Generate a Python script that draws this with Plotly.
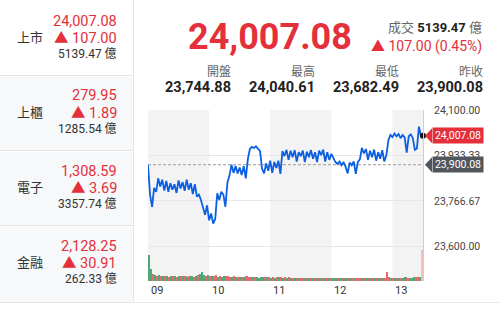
import plotly.graph_objects as go

# ---------------- data ----------------
times = [f"{(540 + 2 * i) // 60:02d}:{(540 + 2 * i) % 60:02d}" for i in range(136)]

prices = [
    23900, 23790, 23744.88, 23815, 23800, 23850,
    23820, 23845, 23805, 23840, 23800, 23832, 23808, 23828, 23796, 23842, 23812, 23836, 23804, 23845, 23808,
    23832, 23792, 23828, 23782,
    23790, 23770, 23740, 23715, 23750, 23695, 23720, 23682.49, 23700,
    23795, 23770, 23800, 23790, 23745, 23835, 23860, 23900, 23870, 23895, 23868,
    23890, 23862, 23895, 23850, 23920, 23958, 23966, 23962, 23968, 23960, 23950, 23885, 23868, 23905, 23878,
    23915, 23870, 23910, 23888, 23915, 23866, 23950, 23932, 23955, 23918, 23952, 23928, 23954, 23912, 23946,
    23932, 23952, 23910, 23948, 23928, 23954, 23922, 23946, 23910, 23952, 23935, 23956, 23912, 23946, 23918, 23940,
    23925, 23910, 23903, 23912, 23898, 23910, 23893, 23868, 23908, 23898, 23912, 23866, 23910, 23920, 23962,
    23942, 23958, 23918, 23952, 23928, 23956, 23915, 23946, 23922, 23954, 23912, 23935,
    23990, 24010, 24002, 24015, 24005, 24013, 23998, 24010, 24001, 23945, 24005, 24012, 23998, 23955, 23960,
    24040.61, 24005, 24007.08,
]

volumes = [
    260, 125, 70, 60, 55, 58, 50, 52, 48, 55,
    45, 50, 47, 52, 44, 48, 50, 46, 55, 45,
    50, 48, 44, 52, 60, 70, 90, 65, 55, 60,
    50, 55, 48, 62, 45, 50, 42, 48, 55, 50,
    45, 40, 46, 42, 40, 44, 38, 42, 50, 45,
    40, 38, 36, 40, 35, 45, 38, 40, 36, 38,
    35, 40, 34, 38, 36, 42, 35, 37, 33, 36,
    34, 32, 35, 30, 33, 31, 34, 30, 32, 30,
    33, 29, 31, 30, 32, 28, 30, 29, 31, 28,
    30, 27, 29, 28, 30, 27, 29, 32, 28, 27,
    29, 31, 28, 30, 35, 30, 28, 30, 27, 29,
    28, 30, 27, 29, 28, 30, 32, 90, 45, 35,
    33, 30, 32, 30, 34, 31, 36, 33, 35, 32,
    38, 40, 45, 42, 310,
]

hour_labels = ["09", "10", "11", "12", "13"]
y_tick_values = [24100.00, 23933.33, 23766.67, 23600.00]
y_tick_labels = ["24,100.00", "23,933.33", "23,766.67", "23,600.00"]

last_price = 24007.08
change = 107.00
change_pct = 0.45
turnover = 5139.47
open_price = 23744.88
high_price = 24040.61
low_price = 23682.49
prev_close = 23900.08

stat_labels = ["開盤", "最高", "最低", "昨收"]
stat_values = [open_price, high_price, low_price, prev_close]

card_names = ["上市", "上櫃", "電子", "金融"]
card_prices = [24007.08, 279.95, 1308.59, 2128.25]
card_changes = [107.00, 1.89, 3.69, 30.91]
card_vols = [5139.47, 1285.54, 3357.74, 262.33]

# ---------------- layout helpers ----------------
L, R, T, B = 148, 77, 110, 30
W, H = 500, 311
PW, PH = W - L - R, H - T - B
Y0, Y1 = 23471, 24102


def PX(x):
    return (x - L) / PW


def PY(y):
    return (H - B - y) / PH


def price_pix(p):
    return T + (Y1 - p) * PH / (Y1 - Y0)


FONT = "Roboto, 'Noto Sans CJK TC', sans-serif"
RED = "#e3303b"

minutes = [int(t[:2]) * 60 + int(t[3:]) - 540 for t in times]
end_min = minutes[-1]

vol_x = [m - 1 for m in minutes[1:]]
vol_colors = []
for i in range(1, len(prices)):
    vol_colors.append("#e35d5d" if prices[i] >= prices[i - 1] else "#3f9f6b")
vol_colors[-1] = "#f2b8b8"

fig = go.Figure()
fig.add_trace(go.Bar(x=vol_x, y=volumes, yaxis="y2", width=1.6,
                     marker=dict(color=vol_colors, line=dict(width=0)), opacity=0.9,
                     hoverinfo="skip"))
fig.add_trace(go.Scatter(x=minutes, y=prices, mode="lines",
                         line=dict(color="#0b5fe0", width=1.8), hoverinfo="skip"))
fig.add_trace(go.Scatter(x=[minutes[-1]], y=[prices[-1]], mode="markers",
                         marker=dict(color="#111", size=6), cliponaxis=False, hoverinfo="skip"))

shapes = []
# alternating hour bands
for k, lab in enumerate(hour_labels):
    if k % 2 == 0:
        x0 = int(lab) * 60 - 540
        shapes.append(dict(type="rect", xref="x", yref="paper", x0=x0, x1=min(x0 + 60, end_min),
                           y0=0, y1=1, fillcolor="#f3f3f3", line=dict(width=0), layer="below"))
# previous close dashed line
shapes.append(dict(type="line", xref="x", yref="y", x0=0, x1=end_min, y0=prev_close, y1=prev_close,
                   line=dict(color="#9a9a9a", width=1, dash="3px,2px"), layer="between"))
# left panel cards
for k in range(4):
    top = 0 if k == 0 else 75 * k + 2
    bot = 75 * (k + 1) if k < 3 else 302
    shapes.append(dict(type="rect", xref="paper", yref="paper", x0=PX(0), x1=PX(133),
                       y0=PY(bot), y1=PY(top), fillcolor="#ffffff" if k == 0 else "#f7f8fa",
                       line=dict(width=0), layer="below"))
    shapes.append(dict(type="line", xref="paper", yref="paper", x0=PX(0), x1=PX(133),
                       y0=PY(bot + 0.5), y1=PY(bot + 0.5), line=dict(color="#e4e4e4", width=1)))
shapes.append(dict(type="line", xref="paper", yref="paper", x0=PX(133.5), x1=PX(133.5),
                   y0=PY(302), y1=PY(0), line=dict(color="#e4e4e4", width=1)))
shapes.append(dict(type="line", xref="paper", yref="paper", x0=PX(134), x1=PX(500),
                   y0=PY(302.5), y1=PY(302.5), line=dict(color="#e8e8e8", width=1)))
# badge arrows
for p, col in [(last_price, RED), (prev_close, "#50565c")]:
    yc = price_pix(p)
    shapes.append(dict(type="path", xref="paper", yref="paper",
                       path=f"M {PX(425)},{PY(yc)} L {PX(432)},{PY(yc - 7.5)} L {PX(432)},{PY(yc + 7.5)} Z",
                       fillcolor=col, line=dict(width=0), layer="above"))

ann = []


def add(text, x, y, size, color, xanchor="left", yanchor="middle", **kw):
    ann.append(dict(text=text, x=PX(x), y=PY(y), xref="paper", yref="paper", showarrow=False,
                    xanchor=xanchor, yanchor=yanchor, font=dict(family=FONT, size=size, color=color), **kw))


# left cards text
for k in range(4):
    base = 75 * k
    add(card_names[k], 15, 37 + base, 13, "#333")
    add(f"{card_prices[k]:,.2f}", 119, 21 + base, 14.5, RED, xanchor="right")
    add(f"▲ {card_changes[k]:.2f}", 119, 38 + base, 14.5, RED, xanchor="right")
    add(f"{card_vols[k]:.2f} 億", 119, 54 + base, 12, "#333", xanchor="right")

# header
add(f"<b>{last_price:,.2f}</b>", 186, 37, 36, RED)
add(f"<span style='color:#666'>成交</span> <b>{turnover:.2f}</b> <span style='color:#666'>億</span>",
    484, 27, 13, "#222", xanchor="right")
add(f"▲ {change:.2f} ({change_pct:.2f}%)", 484, 46, 14, RED, xanchor="right")
for k, (lab, val) in enumerate(zip(stat_labels, stat_values)):
    xr = 233 + 84 * k
    add(lab, xr, 72, 12, "#666", xanchor="right")
    add(f"<b>{val:,.2f}</b>", xr, 88, 14.5, "#222", xanchor="right")

# badges
for p, col in [(last_price, RED), (prev_close, "#50565c")]:
    ann.append(dict(text=f"{p:,.2f}", x=PX(432), y=PY(price_pix(p)), xref="paper", yref="paper",
                    showarrow=False, xanchor="left", yanchor="middle", bgcolor=col,
                    width=48, height=13, borderpad=1, align="center",
                    font=dict(family=FONT, size=10.5, color="#ffffff")))

# hour labels
for lab in hour_labels:
    ann.append(dict(text=lab, x=int(lab) * 60 - 540, y=PY(290), xref="x", yref="paper",
                    showarrow=False, xanchor="left", yanchor="middle", xshift=1,
                    font=dict(family=FONT, size=11, color="#333")))

fig.update_layout(
    width=W, height=H, margin=dict(l=L, r=R, t=T, b=B),
    paper_bgcolor="#ffffff", plot_bgcolor="#ffffff", showlegend=False,
    xaxis=dict(range=[0, end_min], showgrid=False, zeroline=False, showticklabels=False,
               showline=False, fixedrange=True),
    yaxis=dict(side="right", range=[Y0, Y1], tickvals=y_tick_values, ticktext=y_tick_labels,
               showgrid=True, gridcolor="#e6e6e6", gridwidth=1, zeroline=False,
               showline=True, linecolor="#cfcfcf", linewidth=1, ticks="",
               ticklabelstandoff=8, tickfont=dict(family=FONT, size=10.5, color="#444"),
               fixedrange=True),
    yaxis2=dict(overlaying="y", range=[0, 1710], visible=False, fixedrange=True),
    shapes=shapes, annotations=ann, bargap=0,
)

fig.write_html("out.html")
